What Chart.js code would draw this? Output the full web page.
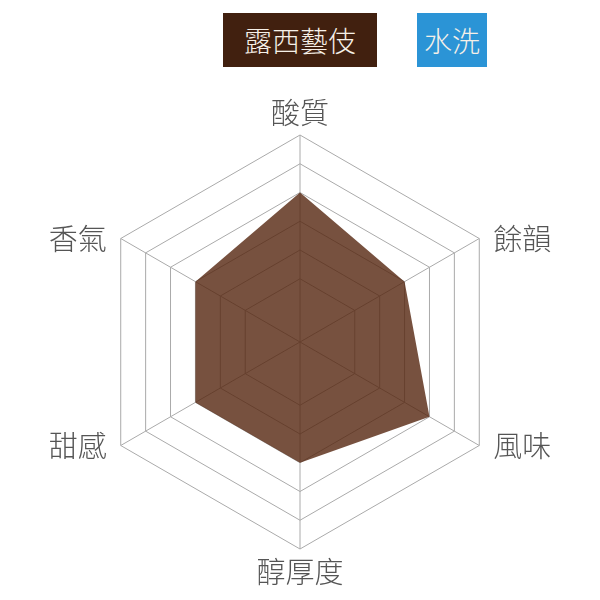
<!DOCTYPE html>
<html>

<head>
  <meta charset="UTF-8">
  <title>Radar</title>
</head>

<body>

<style type="text/css">
  body {
    margin: 0;
    background: #fff;
  }
  .chartBox {
    position: absolute;
    left: 0;
    top: 0;
    width: 600px;
    height: 600px;
  }
  .tag {
    position: absolute;
    top: 13px;
    height: 54px;
    line-height: 54px;
    text-align: center;
    color: #f6f0e8;
    font-family: "Noto Sans CJK TC", sans-serif;
    font-weight: 300;
    font-size: 28px;
  }
  .tag.bean {
    left: 223px;
    width: 154px;
    background: #41200f;
  }
  .tag.process {
    left: 417px;
    width: 70px;
    background: #2b94d6;
  }
</style>

<div class="chartBox">
  <canvas id="myChart" width="600" height="600"></canvas>
</div>
<div class="tag bean">露西藝伎</div>
<div class="tag process">水洗</div>

<script src="https://cdn.jsdelivr.net/npm/chart.js@4.4.1/dist/chart.umd.min.js"></script>
<script>
const labels = ['酸質', '餘韻', '風味', '醇厚度', '甜感', '香氣'];
const scores = [8, 7, 8, 7, 7, 7];
const tickValues = [5, 6, 7, 8, 9, 10];
const scaleMin = 2.8;
const scaleMax = 10;

// labels sit level with the outer corners, not above/below them like the default
const sideLabels = {
  id: 'sideLabels',
  afterDraw(chart) {
    const r = chart.scales.r;
    const ctx = chart.ctx;
    ctx.save();
    ctx.font = '300 29px "Noto Sans CJK TC"';
    ctx.fillStyle = '#555555';
    labels.forEach((text, i) => {
      const p = r.getPointPosition(i, r.drawingArea);
      const dx = p.x - r.xCenter;
      if (Math.abs(dx) < 1) {
        const up = p.y < r.yCenter;
        ctx.textAlign = 'center';
        ctx.textBaseline = up ? 'bottom' : 'top';
        ctx.fillText(text, p.x, p.y + (up ? -8 : 8));
      } else {
        ctx.textAlign = dx > 0 ? 'left' : 'right';
        ctx.textBaseline = 'middle';
        ctx.fillText(text, p.x + (dx > 0 ? 14 : -14), p.y);
      }
    });
    ctx.restore();
  }
};

const ctx = document.getElementById('myChart').getContext('2d');
const myChart = new Chart(ctx, {
    type: 'radar',
    data: {
        labels: labels,
        datasets: [{
            label: '露西藝伎',
            data: scores,
            backgroundColor: 'rgba(85, 38, 15, 0.8)',
            borderWidth: 0,
            pointRadius: 0,
            pointHoverRadius: 0
        }]
    },
    options: {
        responsive: false,
        animation: false,
        layout: {
          padding: { left: 93, right: 93, top: 135, bottom: 51 }
        },
        scales: {
            r: {
                min: scaleMin,
                max: scaleMax,
                afterBuildTicks: (scale) => {
                  scale.ticks = [scaleMin].concat(tickValues).map(v => ({ value: v }));
                },
                ticks: { display: false },
                pointLabels: { display: false },
                grid: { color: '#aaaaaa', lineWidth: 1 },
                angleLines: { color: '#aaaaaa', lineWidth: 1 }
            }
        },
        plugins: {
          legend: { display: false },
          tooltip: { enabled: false }
        }
    },
    plugins: [sideLabels]
});
</script>

</body>
</html>
